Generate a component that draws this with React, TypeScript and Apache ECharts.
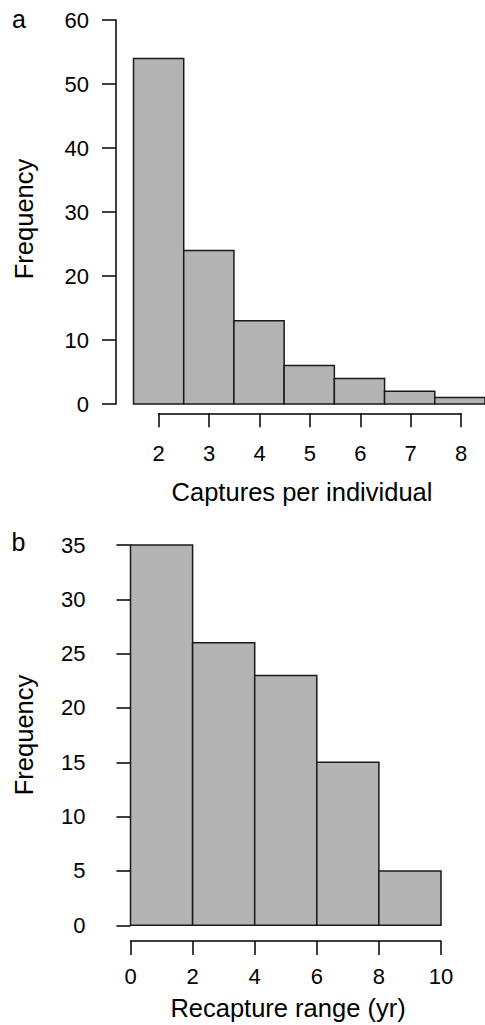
import React, { useEffect, useRef } from "react";
import * as echarts from "echarts";

// Panel a: captures per individual (bins of width 1 centred on the value)
const capturesBins = [2, 3, 4, 5, 6, 7, 8];
const capturesFreq = [54, 24, 13, 6, 4, 2, 1];
const capturesTicks = [0, 10, 20, 30, 40, 50, 60];

// Panel b: recapture range (yr), breaks every 2 years
const rangeBreaks = [0, 2, 4, 6, 8, 10];
const rangeFreq = [35, 26, 23, 15, 5];
const rangeTicks = [0, 5, 10, 15, 20, 25, 30, 35];

const FONT = "'Liberation Sans', Arial, Helvetica, sans-serif";

export default function App() {
  const ref = useRef<HTMLDivElement>(null);

  useEffect(() => {
    if (!ref.current) return;
    const chart = echarts.init(ref.current, undefined, { renderer: "svg" });

    const dataA = capturesBins.map((b, i) => [b - 0.5, b + 0.5, capturesFreq[i]]);
    const dataB = rangeFreq.map((v, i) => [rangeBreaks[i], rangeBreaks[i + 1], v]);

    const renderBar = (params: any, api: any) => {
      const p0 = api.coord([api.value(0), 0]);
      const p1 = api.coord([api.value(1), api.value(2)]);
      return {
        type: "rect",
        shape: { x: p0[0], y: p1[1], width: p1[0] - p0[0], height: p0[1] - p1[1] },
        style: { fill: "#b3b3b3", stroke: "#1a1a1a", lineWidth: 1.5 },
      };
    };

    const axisLine = { show: true, lineStyle: { color: "#000", width: 1.5 } };
    const axisTick = { show: true, length: 14, inside: false, lineStyle: { color: "#000", width: 1.5 } };
    const lbl = (margin: number) => ({ show: true, fontSize: 22, color: "#000", fontFamily: FONT, margin });

    const option: any = {
      animation: false,
      backgroundColor: "#fff",
      textStyle: { fontFamily: FONT },
      grid: [
        { left: 133.5, top: 20, width: 352.8, height: 384 },
        { left: 158.7, top: 412.3, width: 302.4, height: 1 },
        { left: 130.5, top: 545, width: 310.5, height: 380.3 },
        { left: 130.5, top: 940, width: 310.5, height: 1 },
      ],
      xAxis: [
        { gridIndex: 0, type: "value", min: 1.5, max: 8.5, show: false },
        {
          gridIndex: 1, type: "value", min: capturesBins[0], max: capturesBins[capturesBins.length - 1], interval: 1,
          axisLine, axisTick, axisLabel: lbl(29), splitLine: { show: false },
        },
        { gridIndex: 2, type: "value", min: rangeBreaks[0], max: rangeBreaks[rangeBreaks.length - 1], show: false },
        {
          gridIndex: 3, type: "value", min: rangeBreaks[0], max: rangeBreaks[rangeBreaks.length - 1], interval: 2,
          axisLine, axisTick, axisLabel: lbl(24.5), splitLine: { show: false },
        },
      ],
      yAxis: [
        {
          gridIndex: 0, type: "value", min: capturesTicks[0], max: capturesTicks[capturesTicks.length - 1], interval: 10,
          offset: 17.5, axisLine, axisTick, axisLabel: lbl(27), splitLine: { show: false },
        },
        { gridIndex: 1, type: "value", show: false },
        {
          gridIndex: 2, type: "value", min: rangeTicks[0], max: rangeTicks[rangeTicks.length - 1], interval: 5,
          offset: 19, axisLine, axisTick, axisLabel: lbl(26), splitLine: { show: false },
        },
        { gridIndex: 3, type: "value", show: false },
      ],
      series: [
        { type: "custom", xAxisIndex: 0, yAxisIndex: 0, renderItem: renderBar, data: dataA, encode: { x: [0, 1], y: 2 }, clip: false },
        { type: "custom", xAxisIndex: 2, yAxisIndex: 2, renderItem: renderBar, data: dataB, encode: { x: [0, 1], y: 2 }, clip: false },
      ],
      graphic: [
        { type: "text", x: 19, y: 19, style: { text: "a", fontSize: 25, fontFamily: FONT, fill: "#000", align: "center", verticalAlign: "middle" } },
        { type: "text", x: 18.5, y: 542, style: { text: "b", fontSize: 25, fontFamily: FONT, fill: "#000", align: "center", verticalAlign: "middle" } },
        { type: "text", x: 24, y: 219, rotation: Math.PI / 2, style: { text: "Frequency", fontSize: 25.5, fontFamily: FONT, fill: "#000", align: "center", verticalAlign: "middle" } },
        { type: "text", x: 24, y: 735, rotation: Math.PI / 2, style: { text: "Frequency", fontSize: 25.5, fontFamily: FONT, fill: "#000", align: "center", verticalAlign: "middle" } },
        { type: "text", x: 302, y: 492, style: { text: "Captures per individual", fontSize: 25.5, fontFamily: FONT, fill: "#000", align: "center", verticalAlign: "middle" } },
        { type: "text", x: 288, y: 1008, style: { text: "Recapture range (yr)", fontSize: 25.5, fontFamily: FONT, fill: "#000", align: "center", verticalAlign: "middle" } },
      ],
    };

    chart.setOption(option);
    return () => chart.dispose();
  }, []);

  return (
    <div
      ref={ref}
      style={{ position: "absolute", left: 0, top: 0, width: 485, height: 1025, background: "#fff" }}
    />
  );
}
